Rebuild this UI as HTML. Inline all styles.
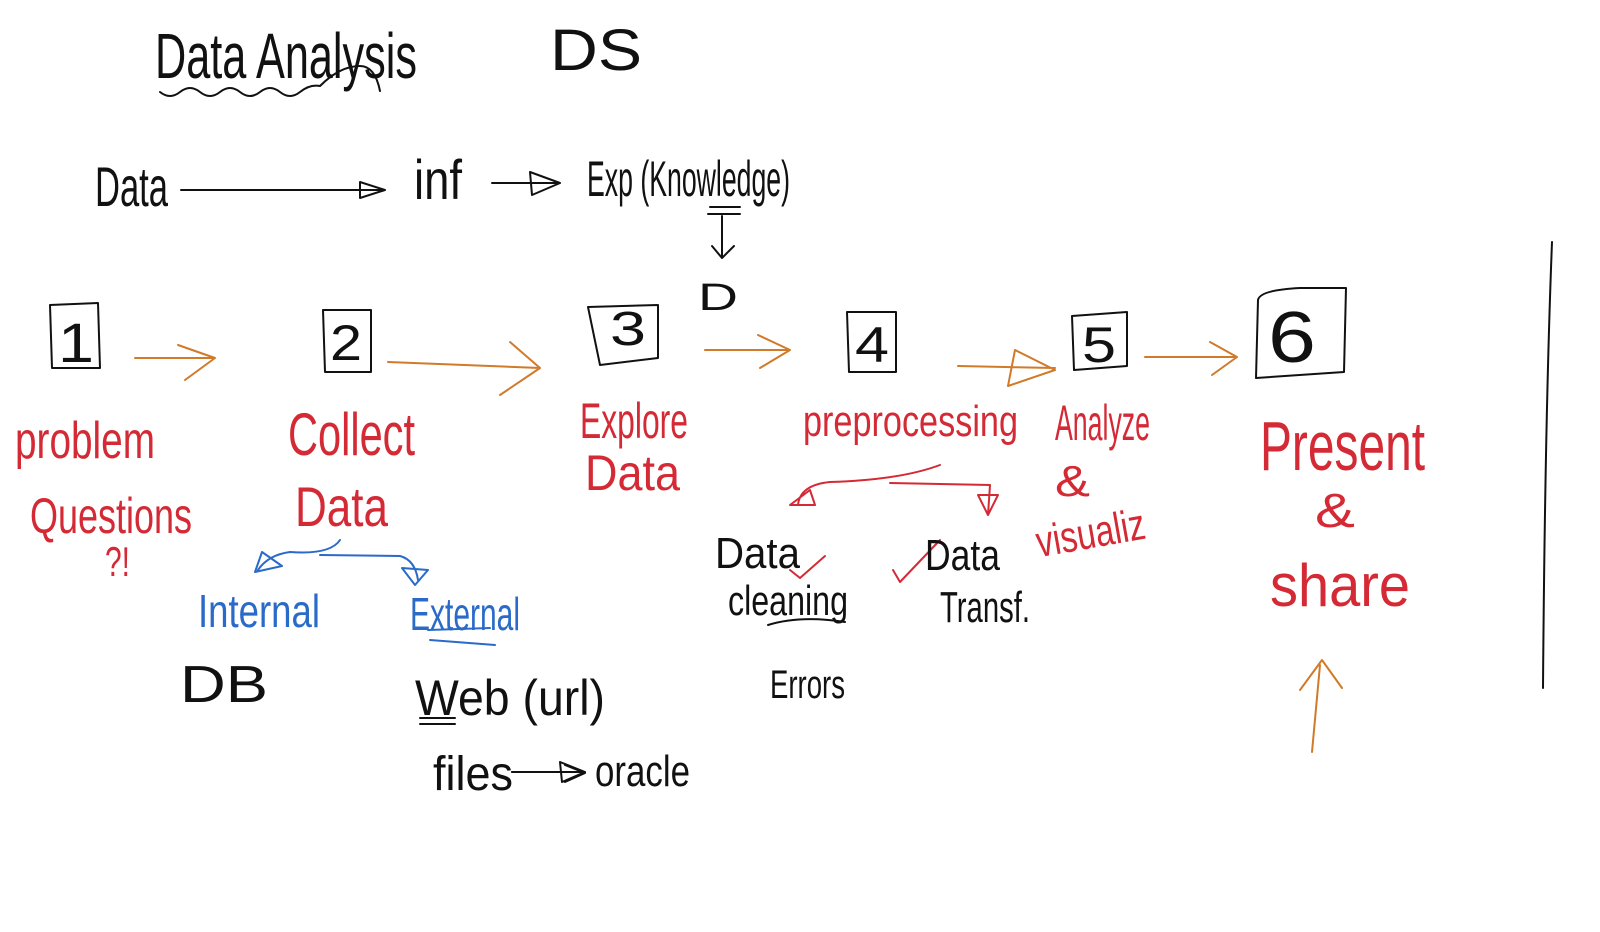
<!DOCTYPE html>
<html><head><meta charset="utf-8"><style>
html,body{margin:0;padding:0;background:#fff;}
svg{display:block;}
text{font-family:"Liberation Sans Narrow","Liberation Sans",sans-serif;font-weight:normal;}
</style></head><body>
<svg width="1600" height="932" viewBox="0 0 1600 932" xmlns="http://www.w3.org/2000/svg">
<g fill="none" stroke-linecap="round" stroke-linejoin="round">
<!-- black strokes -->
<g stroke="#111" stroke-width="2">
<path d="M160 92 q10 8 20 0 q10 -8 20 0 q10 8 20 0 q10 -8 20 0 q10 8 20 0 q10 -8 20 0 q10 8 20 0 q10 -8 20 -6 q20 -20 40 -20 q15 0 20 25"/>
<path d="M181 190 L385 190 M360 182 L385 190 L360 198 Z"/>
<path d="M492 183 L560 183 M530 172 L560 183 L532 195 Z"/>
<path d="M710 207 L740 207 M708 214 L740 214 M722 216 L722 258 M712 246 L722 258 L734 246"/>
<path d="M50 305 L98 303 L100 368 L52 368 Z"/>
<path d="M323 310 L371 310 L371 372 L325 372 Z"/>
<path d="M588 307 L658 305 L658 358 L600 365 Z"/>
<path d="M847 312 L896 312 L896 372 L849 372 Z"/>
<path d="M1072 316 L1127 312 L1127 366 L1074 370 Z"/>
<path d="M1258 300 Q1260 290 1300 288 L1346 288 L1344 372 L1256 378 Z"/>
<path d="M1552 242 Q1545 420 1543 688"/>
<path d="M768 625 Q800 615 845 622 M420 718 L455 718 M420 724 L455 724 M555 772 L515 772 M560 772 L512 772 M565 765 L585 773 L565 782"/>
<path d="M512 772 L585 772 M560 762 L585 772 L562 782 Z"/>
</g>
<!-- orange arrows -->
<g stroke="#d07a2a" stroke-width="2">
<path d="M135 358 L215 358 M178 345 L215 358 L185 380"/>
<path d="M388 362 L540 368 M510 342 L540 368 L500 395"/>
<path d="M705 350 L790 350 M758 335 L790 350 L760 368"/>
<path d="M958 366 L1055 368 M1015 350 L1055 370 L1008 386 Z"/>
<path d="M1145 357 L1237 357 M1210 342 L1237 357 L1212 375"/>
<path d="M1312 752 L1320 665 M1300 690 L1322 660 L1342 688"/>
</g>
<!-- red -->
<g stroke="#d42a36" stroke-width="2">
<path d="M940 465 Q900 480 830 482 Q800 485 798 505 M790 505 L810 490 L815 505 Z M890 483 L990 485 L988 515 M978 495 L998 495 L988 515 Z"/>
<path d="M790 570 L800 578 L825 556"/>
<path d="M893 570 L900 582 L940 540"/>
</g>
<!-- blue -->
<g stroke="#2a6ac8" stroke-width="2">
<path d="M340 540 Q330 555 290 552 Q268 555 258 570 M255 572 L262 552 L282 566 Z M320 555 L400 556 Q415 560 418 580 M402 568 L428 570 L415 585 Z"/>
<path d="M428 630 L490 628 M430 640 L495 645"/>
</g>
</g>
<!-- text black -->
<g fill="#111">
<text x="155" y="78" font-size="64" textLength="262" lengthAdjust="spacingAndGlyphs">Data Analysis</text>
<text x="550" y="70" font-size="58" textLength="92" lengthAdjust="spacingAndGlyphs">DS</text>
<text x="95" y="206" font-size="56" textLength="73" lengthAdjust="spacingAndGlyphs">Data</text>
<text x="414" y="199" font-size="56" textLength="48" lengthAdjust="spacingAndGlyphs">inf</text>
<text x="587" y="196" font-size="50" textLength="203" lengthAdjust="spacingAndGlyphs">Exp (Knowledge)</text>
<text x="698" y="310" font-size="38" textLength="40" lengthAdjust="spacingAndGlyphs">D</text>
<text x="58" y="362" font-size="56" textLength="36" lengthAdjust="spacingAndGlyphs">1</text>
<text x="330" y="360" font-size="50" textLength="32" lengthAdjust="spacingAndGlyphs">2</text>
<text x="610" y="345" font-size="48" textLength="36" lengthAdjust="spacingAndGlyphs">3</text>
<text x="855" y="362" font-size="50" textLength="34" lengthAdjust="spacingAndGlyphs">4</text>
<text x="1082" y="362" font-size="50" textLength="34" lengthAdjust="spacingAndGlyphs">5</text>
<text x="1268" y="362" font-size="72" textLength="48" lengthAdjust="spacingAndGlyphs">6</text>
<text x="715" y="568" font-size="44" textLength="85" lengthAdjust="spacingAndGlyphs">Data</text>
<text x="728" y="615" font-size="42" textLength="120" lengthAdjust="spacingAndGlyphs">cleaning</text>
<text x="925" y="570" font-size="44" textLength="75" lengthAdjust="spacingAndGlyphs">Data</text>
<text x="940" y="622" font-size="44" textLength="90" lengthAdjust="spacingAndGlyphs">Transf.</text>
<text x="770" y="698" font-size="40" textLength="75" lengthAdjust="spacingAndGlyphs">Errors</text>
<text x="180" y="702" font-size="52" textLength="88" lengthAdjust="spacingAndGlyphs">DB</text>
<text x="415" y="715" font-size="50" textLength="190" lengthAdjust="spacingAndGlyphs">Web (url)</text>
<text x="433" y="790" font-size="48" textLength="80" lengthAdjust="spacingAndGlyphs">files</text>
<text x="595" y="786" font-size="44" textLength="95" lengthAdjust="spacingAndGlyphs">oracle</text>
</g>
<!-- red text -->
<g fill="#d42a36">
<text x="15" y="458" font-size="52" textLength="140" lengthAdjust="spacingAndGlyphs">problem</text>
<text x="30" y="533" font-size="50" textLength="162" lengthAdjust="spacingAndGlyphs">Questions</text>
<text x="105" y="576" font-size="42" textLength="25" lengthAdjust="spacingAndGlyphs">?!</text>
<text x="288" y="455" font-size="60" textLength="127" lengthAdjust="spacingAndGlyphs">Collect</text>
<text x="295" y="526" font-size="56" textLength="93" lengthAdjust="spacingAndGlyphs">Data</text>
<text x="580" y="438" font-size="50" textLength="108" lengthAdjust="spacingAndGlyphs">Explore</text>
<text x="585" y="490" font-size="50" textLength="95" lengthAdjust="spacingAndGlyphs">Data</text>
<text x="803" y="436" font-size="44" textLength="215" lengthAdjust="spacingAndGlyphs">preprocessing</text>
<text x="1055" y="440" font-size="50" textLength="95" lengthAdjust="spacingAndGlyphs">Analyze</text>
<text x="1055" y="496" font-size="44" textLength="35" lengthAdjust="spacingAndGlyphs">&amp;</text>
<text x="1035" y="548" font-size="44" textLength="110" lengthAdjust="spacingAndGlyphs" transform="rotate(-10 1090 530)">visualiz</text>
<text x="1260" y="470" font-size="70" textLength="165" lengthAdjust="spacingAndGlyphs">Present</text>
<text x="1315" y="527" font-size="48" textLength="40" lengthAdjust="spacingAndGlyphs">&amp;</text>
<text x="1270" y="606" font-size="60" textLength="140" lengthAdjust="spacingAndGlyphs">share</text>
</g>
<g fill="#2a6ac8">
<text x="198" y="627" font-size="46" textLength="122" lengthAdjust="spacingAndGlyphs">Internal</text>
<text x="410" y="630" font-size="46" textLength="110" lengthAdjust="spacingAndGlyphs">External</text>
</g>
</svg>
</body></html>
